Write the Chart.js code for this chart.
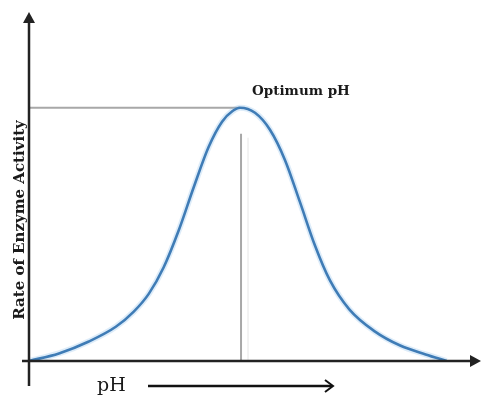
<!DOCTYPE html>
<html>
<head>
<meta charset="utf-8">
<script src="https://cdn.jsdelivr.net/npm/chart.js@4/dist/chart.umd.min.js"></script>
<style>
  html, body { margin: 0; padding: 0; background: #fff; }
  canvas { display: block; }
</style>
</head>
<body>
<canvas id="c" width="481" height="397"></canvas>
<script>
"use strict";

// pH values and enzyme activity (% of max)
const PH = [0, 1, 2, 2.9, 3.5, 4, 4.5, 5, 5.5, 6, 6.45, 6.8, 7.05,
  7.55, 8.05, 8.55, 9.05, 9.55, 10.05, 10.7, 11.55, 12.4, 13.25, 13.95];
const RATE = [0, 3, 7.7, 13.5, 19.5, 26.5, 37, 51.5, 68.5, 84.5, 94.5, 98.7, 100,
  98, 91.3, 79.4, 62.8, 45.7, 31.9, 20.4, 11.7, 6.1, 2.6, 0];

const Y_LABEL = "Rate of Enzyme Activity";
const X_LABEL = "pH";
const PEAK_LABEL = "Optimum pH";

const SERIF = "'DejaVu Serif', 'Liberation Serif', serif";
const points = PH.map((x, i) => ({ x, y: RATE[i] }));

function arrowHead(ctx, tipX, tipY, dir) {
  ctx.beginPath();
  if (dir === "up") {
    ctx.moveTo(tipX, tipY);
    ctx.lineTo(tipX - 6, tipY + 11);
    ctx.lineTo(tipX + 6, tipY + 11);
  } else {
    ctx.moveTo(tipX, tipY);
    ctx.lineTo(tipX - 11, tipY - 6);
    ctx.lineTo(tipX - 11, tipY + 6);
  }
  ctx.closePath();
  ctx.fill();
}

function peakIndex() {
  return RATE.indexOf(Math.max(...RATE));
}

const decor = {
  id: "decor",
  beforeDatasetsDraw(chart) {
    const { ctx, scales } = chart;
    const xs = scales.x, ys = scales.y;
    const pk = peakIndex();
    const px = xs.getPixelForValue(PH[pk]);
    const py = ys.getPixelForValue(RATE[pk]);
    const base = ys.getPixelForValue(0);
    ctx.save();
    ctx.strokeStyle = "#a8a8a8";
    ctx.lineWidth = 2;
    ctx.beginPath();
    ctx.moveTo(xs.left, py);
    ctx.lineTo(px, py);
    ctx.moveTo(px + 1, py + 26);
    ctx.lineTo(px + 1, base);
    ctx.stroke();
    ctx.strokeStyle = "#e6e6e6";
    ctx.lineWidth = 1;
    ctx.beginPath();
    ctx.moveTo(px + 8, py + 30);
    ctx.lineTo(px + 8, base);
    ctx.stroke();
    ctx.restore();
  },
  afterDatasetsDraw(chart) {
    const { ctx, chartArea, scales } = chart;
    const left = chartArea.left, bottom = scales.y.getPixelForValue(0);
    ctx.save();
    ctx.strokeStyle = "#222";
    ctx.fillStyle = "#222";
    ctx.lineWidth = 2.5;
    // y axis
    ctx.beginPath();
    ctx.moveTo(left, 386);
    ctx.lineTo(left, 20);
    ctx.stroke();
    arrowHead(ctx, left, 12, "up");
    // x axis
    ctx.beginPath();
    ctx.moveTo(22, bottom);
    ctx.lineTo(472, bottom);
    ctx.stroke();
    arrowHead(ctx, 481, bottom, "right");

    // peak label
    const pk = peakIndex();
    const px = scales.x.getPixelForValue(PH[pk]);
    const py = scales.y.getPixelForValue(RATE[pk]);
    ctx.fillStyle = "#1a1a1a";
    ctx.font = "bold 13.5px " + SERIF;
    ctx.textBaseline = "alphabetic";
    ctx.textAlign = "left";
    ctx.fillText(PEAK_LABEL, px + 12, py - 13);

    // y title
    ctx.save();
    ctx.translate(24, 220);
    ctx.rotate(-Math.PI / 2);
    ctx.textAlign = "center";
    ctx.font = "bold 15px " + SERIF;
    ctx.fillText(Y_LABEL, 0, 0);
    ctx.restore();

    // pH with arrow
    ctx.font = "19px " + SERIF;
    ctx.textAlign = "left";
    ctx.fillText(X_LABEL, 97, 391);
    ctx.strokeStyle = "#111";
    ctx.lineWidth = 2.5;
    ctx.beginPath();
    ctx.moveTo(148, 386);
    ctx.lineTo(332, 386);
    ctx.stroke();
    ctx.lineWidth = 2;
    ctx.beginPath();
    ctx.moveTo(325, 380);
    ctx.lineTo(333, 386);
    ctx.lineTo(325, 392);
    ctx.stroke();
    ctx.restore();
  }
};

new Chart(document.getElementById("c"), {
  type: "line",
  data: {
    datasets: [
      {
        data: points,
        borderColor: "rgba(120,180,230,0.25)",
        borderWidth: 6,
        pointRadius: 0,
        cubicInterpolationMode: "monotone"
      },
      {
        data: points,
        borderColor: "#2d6aa6",
        borderWidth: 2.6,
        pointRadius: 0,
        cubicInterpolationMode: "monotone"
      }
    ]
  },
  options: {
    responsive: false,
    animation: false,
    layout: { padding: { left: 29, right: 3, top: 14, bottom: 36 } },
    plugins: { legend: { display: false }, tooltip: { enabled: false } },
    scales: {
      x: { type: "linear", min: 0, max: 15, display: false },
      y: { min: 0, max: 137, display: false }
    }
  },
  plugins: [decor]
});
</script>
</body>
</html>
